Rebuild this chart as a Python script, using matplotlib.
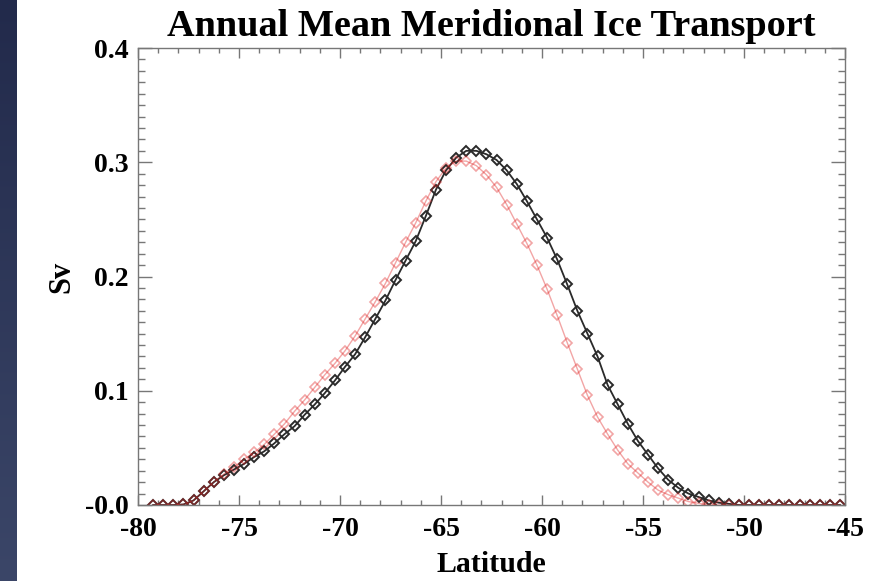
import matplotlib
matplotlib.use("Agg")
import matplotlib.pyplot as plt
import numpy as np
from matplotlib.ticker import MultipleLocator

# latitude grid (0.5 deg, cell centres)
lat = np.arange(-79.25, -45.0, 0.5)

# ice transport, Sv
black_sv = [0.0, 0.0, 0.0, 0.0005, 0.004, 0.012, 0.020, 0.026, 0.031, 0.036,
            0.042, 0.047, 0.054, 0.062, 0.069, 0.079, 0.088, 0.098, 0.109, 0.121,
            0.132, 0.147, 0.163, 0.179, 0.197, 0.214, 0.231, 0.253, 0.276, 0.293,
            0.304, 0.310, 0.310, 0.307, 0.302, 0.293, 0.281, 0.266, 0.250, 0.234,
            0.215, 0.193, 0.170, 0.150, 0.130, 0.105, 0.088, 0.071, 0.056, 0.044,
            0.032, 0.022, 0.015, 0.010, 0.007, 0.004, 0.002, 0.001, 0.0, 0.0,
            0.0, 0.0, 0.0, 0.0, 0.0, 0.0, 0.0, 0.0, 0.0]
red_sv = [0.0, 0.0, 0.0, 0.0005, 0.004, 0.012, 0.020, 0.027, 0.033, 0.040,
          0.046, 0.053, 0.062, 0.071, 0.082, 0.092, 0.103, 0.114, 0.124, 0.135,
          0.148, 0.163, 0.178, 0.194, 0.212, 0.230, 0.247, 0.266, 0.283, 0.295,
          0.301, 0.301, 0.297, 0.289, 0.278, 0.263, 0.246, 0.229, 0.210, 0.189,
          0.166, 0.142, 0.119, 0.096, 0.077, 0.062, 0.048, 0.036, 0.028, 0.020,
          0.013, 0.009, 0.006, 0.003, 0.0015, 0.0, 0.0, 0.0, 0.0, 0.0,
          0.0, 0.0, 0.0, 0.0, 0.0, 0.0, 0.0, 0.0, 0.0]

xticks = [-80, -75, -70, -65, -60, -55, -50, -45]
yticks = [0.0, 0.1, 0.2, 0.3, 0.4]
ytick_labels = ["-0.0", "0.1", "0.2", "0.3", "0.4"]

plt.rcParams['font.family'] = ['Liberation Serif', 'DejaVu Serif']
plt.rcParams['font.weight'] = 'bold'

fig = plt.figure(figsize=(8.75, 5.81), dpi=100)
fig.patch.set_facecolor('white')

# dark strip on the left edge
strip = fig.add_axes([0, 0, 17 / 875, 1])
grad = np.linspace(0, 1, 256).reshape(-1, 1)
c_top = np.array([0x22, 0x2a, 0x4b]) / 255
c_bot = np.array([0x3b, 0x46, 0x68]) / 255
img = c_top + (c_bot - c_top) * grad[:, :, None]
strip.imshow(img, aspect='auto', extent=[0, 1, 0, 1], origin='upper')
strip.axis('off')

ax = fig.add_axes([138 / 875, 76 / 581, 707 / 875, 457 / 581])
ax.plot(lat, black_sv, color='#2a2a2a', lw=1.3, marker='D', ms=5.5,
        mfc='none', mew=1.4, mec='#2a2a2a')
ax.plot(lat, red_sv, color='#e02020', alpha=0.4, lw=1.0, marker='D', ms=5.5,
        mfc='none', mew=1.2)

ax.set_xlim(-80, -45)
ax.set_ylim(0, 0.4)
ax.set_xticks(xticks)
ax.set_xticklabels([str(t) for t in xticks])
ax.set_yticks(yticks)
ax.set_yticklabels(ytick_labels)
ax.xaxis.set_minor_locator(MultipleLocator(1))
ax.yaxis.set_minor_locator(MultipleLocator(0.01))

ax.tick_params(axis='both', which='both', direction='in', top=True, right=True,
               color='#777777', width=1, labelsize=20)
ax.tick_params(axis='x', which='major', length=7, pad=9)
ax.tick_params(axis='x', which='minor', length=3.5)
ax.tick_params(axis='y', which='major', length=10, pad=7)
ax.tick_params(axis='y', which='minor', length=5)
for s in ax.spines.values():
    s.set_color('#777777')
    s.set_linewidth(1)

ax.set_title("Annual Mean Meridional Ice Transport", fontsize=27.5,
             fontweight='bold', pad=9)
ax.set_xlabel("Latitude", fontsize=21.5, fontweight='bold', labelpad=6)
ax.set_ylabel("Sv", fontsize=22, fontweight='bold', labelpad=6)

fig.savefig("out.png", dpi=100)
